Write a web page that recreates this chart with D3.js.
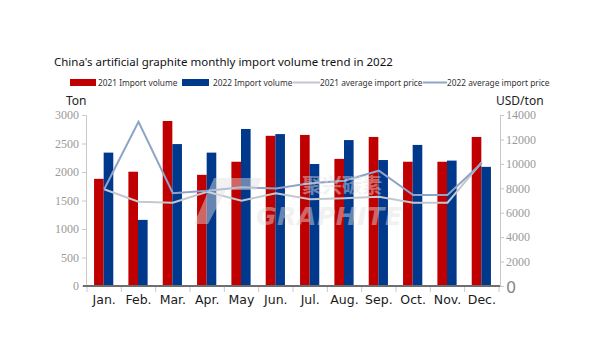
<!DOCTYPE html>
<html><head><meta charset="utf-8">
<script src="https://cdn.jsdelivr.net/npm/d3@7"></script>
<style>body{margin:0;background:#fff}svg{display:block}</style>
</head><body>
<svg id="c" width="590" height="363"></svg>
<script>
const months = ["Jan.","Feb.","Mar.","Apr.","May","Jun.","Jul.","Aug.","Sep.","Oct.","Nov.","Dec."];
const vol2021 = [1880,2005,2895,1950,2180,2635,2650,2230,2615,2180,2180,2615];
const vol2022 = [2340,1160,2490,2340,2755,2665,2140,2560,2210,2475,2200,2090];
const price2021 = [7920,6900,6820,7720,6980,7590,7100,7180,7310,6820,6820,10150];
const price2022 = [7920,13450,7590,7800,8080,7980,8410,8620,9440,7450,7450,10070];
const leftTicks = [0,500,1000,1500,2000,2500,3000];
const rightTicks = [0,2000,4000,6000,8000,10000,12000,14000];
const title = "China's artificial graphite monthly import volume trend in 2022";
const legendLabels = ["2021 Import volume","2022 Import volume","2021 average import price","2022 average import price"];

const RED="#C00000", BLUE="#00388C", L21="#C4C7CE", L22="#8FA4C6";
const svg = d3.select("#c");
const x0=86, x1=500, yTop=115, yBot=286;

const x = d3.scaleBand().domain(months).range([x0+1, x1-1]).paddingInner(0).paddingOuter(0);
const gw = x.bandwidth()*0.56;
const xs = d3.scaleBand().domain(["a","b"]).range([0,gw]);
const yL = d3.scaleLinear().domain([0,3000]).range([yBot,yTop]);
const yR = d3.scaleLinear().domain([0,14000]).range([yBot,yTop]);

// title
svg.append("text").attr("x",54).attr("y",66).attr("font-family","Noto Sans").attr("font-size",11.5)
  .attr("fill","#111").text(title);

// legend
const lg = svg.append("g").attr("font-family","Noto Sans").attr("font-size",8.3).attr("fill","#333");
const lx = [70,182,293,423];
const lt = [98,213,320,447];
lg.append("rect").attr("x",lx[0]).attr("y",79).attr("width",26).attr("height",7).attr("fill",RED);
lg.append("rect").attr("x",lx[1]).attr("y",79).attr("width",27).attr("height",7).attr("fill",BLUE);
lg.append("line").attr("x1",lx[2]).attr("x2",lx[2]+27).attr("y1",82.5).attr("y2",82.5).attr("stroke",L21).attr("stroke-width",2);
lg.append("line").attr("x1",lx[3]).attr("x2",lx[3]+24).attr("y1",82.5).attr("y2",82.5).attr("stroke",L22).attr("stroke-width",2);
legendLabels.forEach((t,i)=>lg.append("text").attr("x",lt[i]).attr("y",85.5).text(t));

// axis titles
svg.append("text").attr("x",66).attr("y",105).attr("font-family","Noto Sans").attr("font-size",12).attr("fill","#222").text("Ton");
svg.append("text").attr("x",496).attr("y",105).attr("font-family","Noto Sans").attr("font-size",12).attr("fill","#222").text("USD/ton");

// left axis
const la = svg.append("g").attr("transform",`translate(${x0},0)`)
  .call(d3.axisLeft(yL).tickValues(leftTicks).tickSize(4).tickPadding(3).tickFormat(d3.format("d")));
la.select(".domain").attr("stroke","#C8C8C8");
la.selectAll(".tick line").attr("stroke","#C8C8C8");
la.selectAll(".tick text").attr("font-family","Liberation Serif").attr("font-size",12).attr("fill","#9A9A9A");

// right axis
const ra = svg.append("g").attr("transform",`translate(${x1},0)`)
  .call(d3.axisRight(yR).tickValues(rightTicks).tickSize(4).tickPadding(2).tickFormat(d3.format("d")));
ra.select(".domain").attr("stroke","#C8C8C8");
ra.selectAll(".tick line").attr("stroke","#C8C8C8");
ra.selectAll(".tick text").attr("font-family","Liberation Serif").attr("font-size",12).attr("fill","#9A9A9A");
ra.selectAll(".tick").filter(d=>d===0).select("text")
  .attr("font-family","DejaVu Sans").attr("font-size",16).attr("fill","#8A8A8A").attr("dy","0.4em");

// bars
const bars = svg.append("g");
months.forEach((m,i)=>{
  const gx = x(m) + (x.bandwidth()-gw)/2 - 0.5;
  bars.append("rect").attr("x",gx+xs("a")).attr("width",xs.bandwidth()).attr("y",yL(vol2021[i])).attr("height",yBot-yL(vol2021[i])).attr("fill",RED);
  bars.append("rect").attr("x",gx+xs("b")).attr("width",xs.bandwidth()).attr("y",yL(vol2022[i])).attr("height",yBot-yL(vol2022[i])).attr("fill",BLUE);
});

// x axis
const xa = svg.append("g").attr("transform",`translate(0,${yBot})`)
  .call(d3.axisBottom(x).tickSize(0).tickPadding(9));
xa.select(".domain").remove();
xa.selectAll(".tick text").attr("font-family","DejaVu Sans").attr("font-size",12.5).attr("fill","#1a1a1a");
const bounds = months.map(m=>x(m)).concat([x(months[11])+x.bandwidth()]);
svg.append("g").selectAll("line").data(bounds).join("line")
  .attr("x1",d=>d).attr("x2",d=>d).attr("y1",yBot).attr("y2",yBot+6).attr("stroke","#C8C8C8");
svg.append("line").attr("x1",x0-3).attr("x2",x1).attr("y1",yBot).attr("y2",yBot).attr("stroke","#6E6E6E").attr("stroke-width",2);

// lines
const line = d3.line().x((d,i)=>x(months[i])+x.bandwidth()/2).y(d=>yR(d));
svg.append("path").datum(price2021).attr("d",line).attr("fill","none").attr("stroke",L21).attr("stroke-width",2);
svg.append("path").datum(price2022).attr("d",line).attr("fill","none").attr("stroke",L22).attr("stroke-width",2);

// watermark
const wm = svg.append("g").attr("opacity",0.45).attr("fill","#E2E2E2");
wm.append("text").attr("x",302).attr("y",193).attr("font-family","Noto Sans CJK SC").attr("font-weight","bold").attr("font-size",20).text("聚兴碳素");
wm.append("text").attr("x",256).attr("y",225).attr("font-family","DejaVu Sans").attr("font-weight","bold").attr("font-style","italic").attr("font-size",25).attr("textLength",146).text("GRAPHITE");
wm.append("path").attr("d","M214,178 L262,178 L256,190 L226,190 L208,224 L194,224 Z");
</script>
</body></html>
